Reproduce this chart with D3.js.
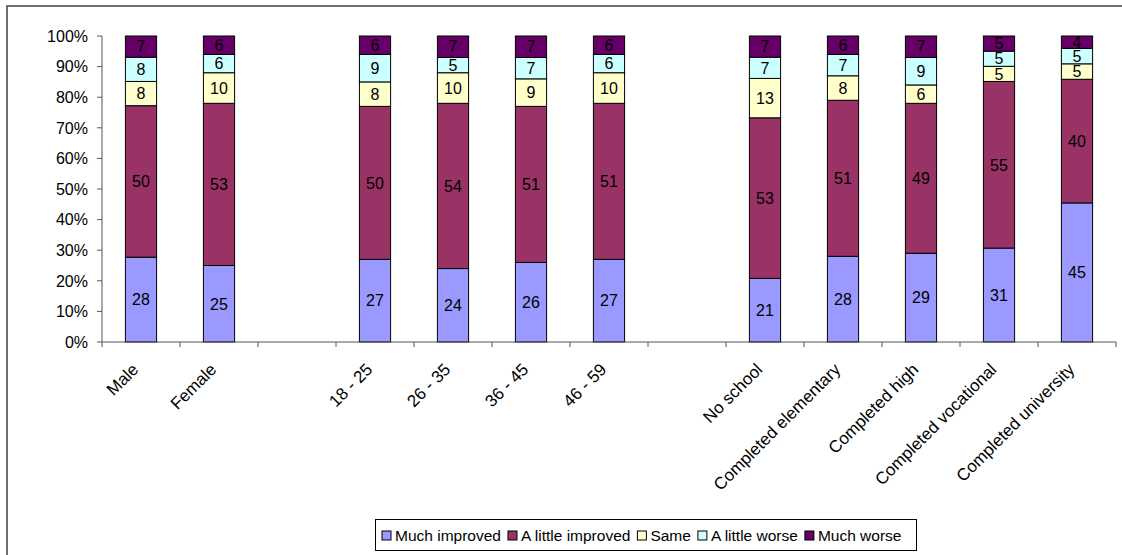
<!DOCTYPE html>
<html><head><meta charset="utf-8">
<script src="https://cdn.jsdelivr.net/npm/d3@7"></script>
<style>
html,body{margin:0;padding:0;background:#fff;}
text{font-family:"Liberation Sans",Arial,sans-serif;fill:#000;}
</style></head>
<body><svg id="c" width="1122" height="555"></svg>
<script>
const categories = ["Male","Female","","18 - 25","26 - 35","36 - 45","46 - 59","","No school","Completed elementary","Completed high","Completed vocational","Completed university"];
const seriesNames = ["Much improved","A little improved","Same","A little worse","Much worse"];
const muchImproved   = [28,25,null,27,24,26,27,null,21,28,29,31,45];
const littleImproved = [50,53,null,50,54,51,51,null,53,51,49,55,40];
const same           = [8,10,null,8,10,9,10,null,13,8,6,5,5];
const littleWorse    = [8,6,null,9,5,7,6,null,7,7,9,5,5];
const muchWorse      = [7,6,null,6,7,7,6,null,7,6,7,5,4];
const yTicks = [0,10,20,30,40,50,60,70,80,90,100];
const colors = ["#9999FF","#993366","#FFFFCC","#CCFFFF","#660066"];

const seriesValues = [muchImproved,littleImproved,same,littleWorse,muchWorse];
const FS = 16;
const svg = d3.select("#c");

// outer frame
svg.append("rect").attr("x",7).attr("y",6).attr("width",1130).attr("height",560)
  .attr("fill","none").attr("stroke","#404040").attr("stroke-width",1.5);

const x = d3.scaleBand().domain(d3.range(categories.length)).range([102,1116])
  .paddingInner(0.6).paddingOuter(0.3);
const y = d3.scaleLinear().domain([0,100]).range([342,36]);

const rows = categories.map((c,i)=>{
  const o = {i, cat:c};
  seriesNames.forEach((s,k)=>o[s]=seriesValues[k][i]);
  return o;
}).filter(d=>d[seriesNames[0]]!=null);
rows.forEach(d=>{
  const tot = d3.sum(seriesNames,s=>d[s]);
  seriesNames.forEach(s=>d["n_"+s]=d[s]/tot*100);
});
const stack = d3.stack().keys(seriesNames.map(s=>"n_"+s));
const stacked = stack(rows);

const g = svg.append("g");
stacked.forEach((layer,k)=>{
  layer.forEach(seg=>{
    const d = seg.data;
    const x0 = x(d.i), w = x.bandwidth();
    const yt = y(seg[1]), yb = y(seg[0]);
    g.append("rect").attr("x",x0).attr("y",yt).attr("width",w).attr("height",yb-yt)
      .attr("fill",colors[k]).attr("stroke","#000").attr("stroke-width",1);
    g.append("text")
      .attr("x",x0+w/2).attr("y",(yt+yb)/2)
      .attr("text-anchor","middle").attr("dy","0.36em")
      .attr("font-size",FS).text(d[seriesNames[k]]);
  });
});

// y axis
const ax = svg.append("g");
ax.append("line").attr("x1",102).attr("x2",102).attr("y1",36).attr("y2",342).attr("stroke","#555");
yTicks.forEach(t=>{
  ax.append("line").attr("x1",97).attr("x2",102).attr("y1",y(t)).attr("y2",y(t)).attr("stroke","#555");
  ax.append("text").attr("x",88).attr("y",y(t))
    .attr("text-anchor","end").attr("dy","0.36em").attr("font-size",FS).text(t+"%");
});
// x axis
ax.append("line").attr("x1",102).attr("x2",1116).attr("y1",342).attr("y2",342).attr("stroke","#555");
const step = x.step();
const bounds = d3.range(categories.length+1).map(i=> i<categories.length ? x(i)-step*0.3 : x(i-1)+x.bandwidth()+step*0.3);
bounds.forEach(b=>{
  ax.append("line").attr("x1",b).attr("x2",b).attr("y1",342).attr("y2",347).attr("stroke","#555");
});
categories.forEach((c,i)=>{
  if(!c) return;
  const cx = x(i)+x.bandwidth()/2;
  ax.append("text").attr("transform",`translate(${cx-10},362) rotate(-45)`)
    .attr("text-anchor","end").attr("dy","0.71em").attr("font-size",17).text(c);
});

// legend
const lg = svg.append("g");
lg.append("rect").attr("x",375.5).attr("y",519.5).attr("width",541).attr("height",31)
  .attr("fill","#fff").attr("stroke","#000").attr("stroke-width",1);
let lx = 382;
seriesNames.forEach((s,k)=>{
  lg.append("rect").attr("x",lx).attr("y",531).attr("width",9).attr("height",9)
    .attr("fill",colors[k]).attr("stroke","#000");
  const t = lg.append("text").attr("x",lx+13).attr("y",535.5)
    .attr("dy","0.36em").attr("font-size",15.5).text(s);
  lx += 13 + t.node().getComputedTextLength() + 7;
});
</script></body></html>
